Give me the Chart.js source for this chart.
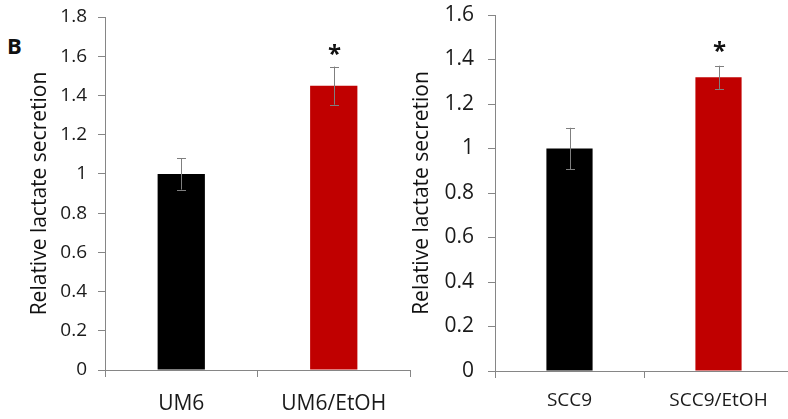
<!DOCTYPE html>
<html>
<head>
<meta charset="utf-8">
<script src="https://cdn.jsdelivr.net/npm/chart.js@4.4.1/dist/chart.umd.min.js"></script>
<style>
  html, body {
    margin: 0;
    padding: 0;
    background: #fff;
    overflow: hidden;
    width: 788px;
    height: 419px;
  }
  .panel {
    position: absolute;
    top: 0;
  }
  #label {
    position: absolute;
    left: 7px;
    top: 30px;
    font: bold 22px "Open Sans", sans-serif;
    color: #111;
  }
</style>
</head>
<body>
<div id="label">B</div>
<div class="panel" style="left:0px"><canvas id="left" width="412" height="419"></canvas></div>
<div class="panel" style="left:390px"><canvas id="right" width="405" height="419"></canvas></div>
<script>
const leftCategories = ['UM6', 'UM6/EtOH'];
const leftValues = [1.0, 1.45];
const leftErrors = [0.08, 0.097];
const leftSig = [false, true];
const leftMax = 1.8;

const rightCategories = ['SCC9', 'SCC9/EtOH'];
const rightValues = [1.0, 1.32];
const rightErrors = [0.093, 0.052];
const rightSig = [false, true];
const rightMax = 1.6;

const barColors = ['#000000', '#c00000'];
const axisColor = '#868686';
const yTitle = 'Relative lactate secretion';

// error bars + significance stars, drawn from the bar elements
const errorBars = {
  id: 'errorBars',
  afterDatasetsDraw(chart, args, opts) {
    const {ctx} = chart;
    const yScale = chart.scales.y;
    const meta = chart.getDatasetMeta(0);
    ctx.save();
    meta.data.forEach((bar, i) => {
      const v = opts.values[i];
      const e = opts.errors[i];
      const top = yScale.getPixelForValue(v + e);
      const bottom = yScale.getPixelForValue(v - e);
      const x = Math.round(bar.x) + 0.5;
      ctx.strokeStyle = '#7f7f7f';
      ctx.lineWidth = 1;
      ctx.beginPath();
      ctx.moveTo(x, top);
      ctx.lineTo(x, bottom);
      ctx.moveTo(x - 4.5, Math.round(top) + 0.5);
      ctx.lineTo(x + 4.5, Math.round(top) + 0.5);
      ctx.moveTo(x - 4.5, Math.round(bottom) + 0.5);
      ctx.lineTo(x + 4.5, Math.round(bottom) + 0.5);
      ctx.stroke();
      if (opts.sig[i]) {
        ctx.fillStyle = '#111';
        ctx.font = 'bold 24px "Open Sans", sans-serif';
        ctx.textAlign = 'center';
        ctx.textBaseline = 'middle';
        ctx.fillText('*', x, top - opts.starGap);
      }
    });
    ctx.restore();
  }
};

function makeChart(id, cats, values, errors, sig, max, o) {
  const ctx = document.getElementById(id).getContext('2d');
  return new Chart(ctx, {
    type: 'bar',
    data: {
      labels: cats,
      datasets: [{
        data: values,
        backgroundColor: barColors,
        borderWidth: 0,
        categoryPercentage: 1,
        barPercentage: 0.31
      }]
    },
    options: {
      responsive: false,
      animation: false,
      layout: {padding: {top: o.top, right: 2, left: 0, bottom: 0}},
      plugins: {
        legend: {display: false},
        tooltip: {enabled: false},
        errorBars: {values, errors, sig, starGap: o.starGap}
      },
      scales: {
        x: {
          grid: {drawOnChartArea: false, tickLength: 7, color: axisColor},
          border: {color: axisColor},
          ticks: {
            color: '#1a1a1a',
            font: {family: 'Open Sans', size: o.xFont},
            padding: o.xPad,
            maxRotation: 0
          },
          afterFit(scale) {
            scale.height = o.xHeight;
            scale.paddingLeft = 0;
            scale.paddingRight = 0;
          }
        },
        y: {
          min: 0,
          max: max,
          grid: {drawOnChartArea: false, tickLength: 7, color: axisColor},
          border: {color: axisColor},
          ticks: {
            stepSize: 0.2,
            color: '#1a1a1a',
            font: {family: 'Open Sans', size: o.yFont},
            padding: o.yPad,
            callback: v => String(Number(v.toFixed(1)))
          },
          title: {
            display: true,
            text: yTitle,
            color: '#111',
            font: {family: 'Open Sans', size: 21},
            padding: {top: o.titlePad, bottom: 0}
          },
          afterFit(scale) {
            scale.width = 105;
            scale.paddingTop = 0;
            scale.paddingBottom = 0;
          }
        }
      }
    },
    plugins: [errorBars]
  });
}

makeChart('left', leftCategories, leftValues, leftErrors, leftSig, leftMax,
  {top: 17, xHeight: 49, xFont: 21, xPad: 14, yFont: 19, yPad: 11, titlePad: 27, starGap: 11});
makeChart('right', rightCategories, rightValues, rightErrors, rightSig, rightMax,
  {top: 15, xHeight: 48, xFont: 19, xPad: 11, yFont: 21, yPad: 14, titlePad: 19, starGap: 14});
</script>
</body>
</html>
